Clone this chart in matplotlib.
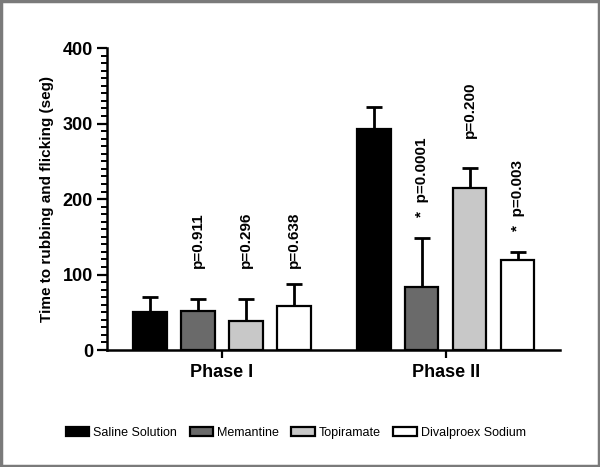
import matplotlib
matplotlib.use("Agg")
import matplotlib.pyplot as plt
from matplotlib.patches import Rectangle
from matplotlib.ticker import MultipleLocator
import numpy as np

plt.rcParams['font.family'] = ['Liberation Sans', 'DejaVu Sans']

# ---- data ----
phases = ["Phase I", "Phase II"]
treatments = ["Saline Solution", "Memantine", "Topiramate", "Divalproex Sodium"]
means_phase1 = [51, 52, 39, 58]
means_phase2 = [293, 84, 214, 119]
sem_phase1 = [19, 16, 29, 29]
sem_phase2 = [29, 64, 27, 11]
pvals_phase1 = [None, "p=0.911", "p=0.296", "p=0.638"]
pvals_phase2 = [None, "*  p=0.0001", "p=0.200", "*  p=0.003"]
plabel_y_phase1 = [None, 109, 109, 109]
plabel_y_phase2 = [None, 176, 281, 158]

colors = ["#000000", "#6a6a6a", "#c8c8c8", "#ffffff"]

fig = plt.figure(figsize=(6.0, 4.67), dpi=100)
ax = fig.add_axes([0.178, 0.2505, 0.755, 0.6465])

group_centers = [0.0, 4.667]
offsets = [-1.5, -0.5, 0.5, 1.5]
width = 0.69

means = [means_phase1, means_phase2]
sems = [sem_phase1, sem_phase2]
pvals = [pvals_phase1, pvals_phase2]
plab = [plabel_y_phase1, plabel_y_phase2]

for i, t in enumerate(treatments):
    xs = [group_centers[g] + offsets[i] for g in range(2)]
    hs = [means[g][i] for g in range(2)]
    errs = [sems[g][i] for g in range(2)]
    ax.bar(xs, hs, width=width, color=colors[i], edgecolor="black",
           linewidth=1.6, label=t, zorder=3,
           yerr=[[0, 0], errs],
           error_kw=dict(capsize=6, elinewidth=2, capthick=2, ecolor="black", zorder=2))
    for g in range(2):
        if pvals[g][i]:
            ax.text(xs[g], plab[g][i], pvals[g][i], rotation=90, ha="center",
                    va="bottom", fontsize=11, fontweight="bold")

ax.set_xlim(-2.40, 7.04)
ax.set_ylim(0, 400)
ax.set_xticks(group_centers)
ax.set_xticklabels(phases, fontsize=13, fontweight="bold")
ax.set_yticks([0, 100, 200, 300, 400])
ax.set_yticklabels(["0", "100", "200", "300", "400"], fontsize=13, fontweight="bold")
ax.yaxis.set_minor_locator(MultipleLocator(10))
ax.tick_params(axis="y", which="major", length=7, width=1.6, pad=3)
ax.tick_params(axis="y", which="minor", length=4, width=1.4)
ax.tick_params(axis="x", which="major", length=6, width=1.6, pad=4)
for s in ["top", "right"]:
    ax.spines[s].set_visible(False)
for s in ["left", "bottom"]:
    ax.spines[s].set_linewidth(1.8)

ax.set_ylabel("Time to rubbing and flicking (seg)", fontsize=11, fontweight="bold", labelpad=6)

fig.legend(loc="center", bbox_to_anchor=(0.493, 0.073), ncol=4, frameon=False,
           fontsize=9, handlelength=1.9, handleheight=0.8, handletextpad=0.3,
           columnspacing=1.0)

fig.patches.append(Rectangle((0.002, 0.002), 0.996, 0.996, transform=fig.transFigure,
                             fill=False, edgecolor="#7a7a7a", linewidth=2.5))

fig.savefig("out.png", dpi=100)
